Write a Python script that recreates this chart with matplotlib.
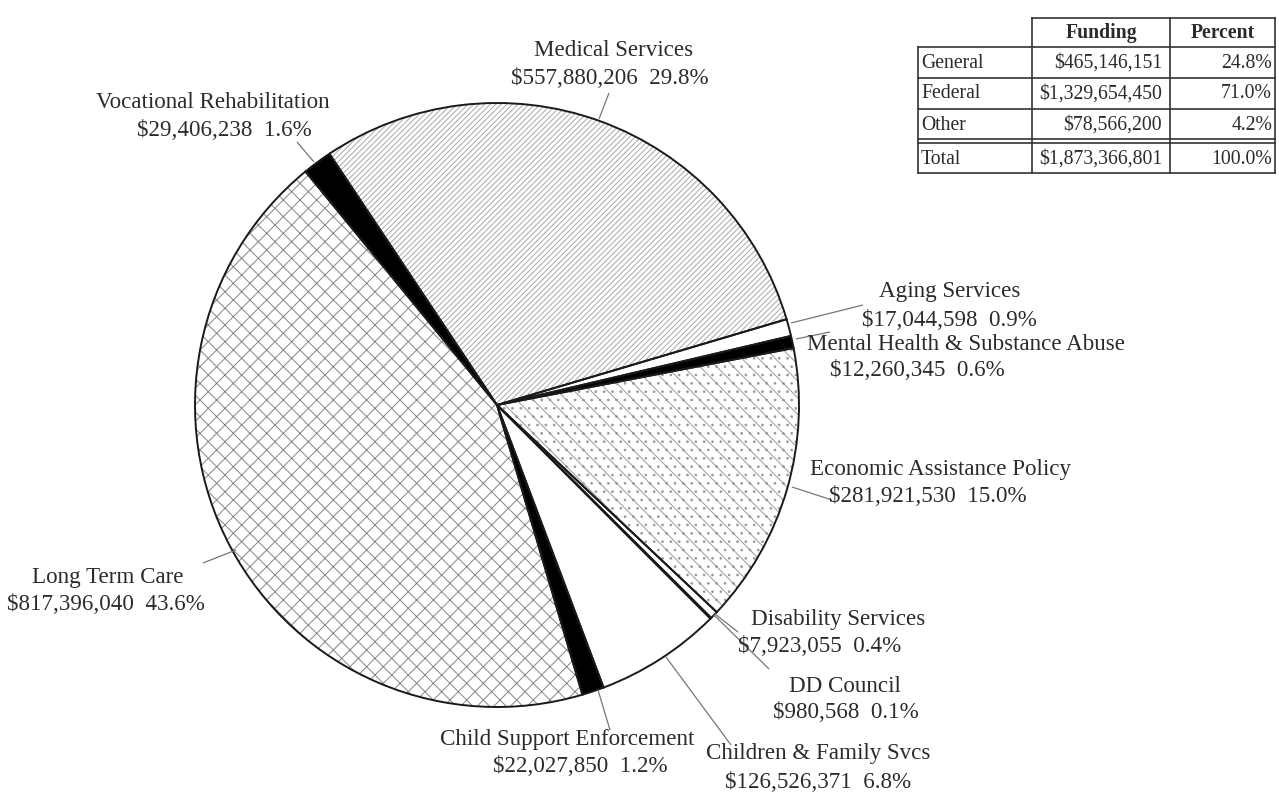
import matplotlib
matplotlib.use("Agg")
import matplotlib.pyplot as plt

plt.rcParams['font.family'] = ['Liberation Serif', 'DejaVu Serif']
plt.rcParams['hatch.linewidth'] = 0.7

# ---- data ----
departments = ["Medical Services", "Vocational Rehabilitation", "Long Term Care",
               "Child Support Enforcement", "Children & Family Svcs", "DD Council",
               "Disability Services", "Economic Assistance Policy",
               "Mental Health & Substance Abuse", "Aging Services"]
funding = [557880206, 29406238, 817396040, 22027850, 126526371, 980568,
           7923055, 281921530, 12260345, 17044598]
percents = [29.8, 1.6, 43.6, 1.2, 6.8, 0.1, 0.4, 15.0, 0.6, 0.9]

table_rows = ["General", "Federal", "Other", "Total"]
table_funding = ["$465,146,151", "$1,329,654,450", "$78,566,200", "$1,873,366,801"]
table_percent = ["24.8%", "71.0%", "4.2%", "100.0%"]
table_cols = ["Funding", "Percent"]

# ---- styles ----
fills = ['white', 'black', 'white', 'black', 'white', 'black', 'white', 'white', 'black', 'white']
hatches = ['//////', None, 'xx', None, None, None, None, '\\\\..', None, None]
hatch_cols = ['#a8a8a8', 'none', '#858585', 'none', 'none', 'none', 'none', '#9a9a9a', 'none', 'none']

W, H = 1279, 794
def Y(y):
    return H - y

fig = plt.figure(figsize=(W / 100, H / 100), dpi=100)
ax = fig.add_axes([0, 0, 1, 1])

center = (497, Y(405))
R = 302
start = 16.5

wedges, _ = ax.pie(funding, colors=fills, center=center, radius=R,
                   startangle=start, counterclock=True,
                   wedgeprops=dict(linewidth=0, edgecolor='none'))
for w, h, hc in zip(wedges, hatches, hatch_cols):
    if h:
        w.set_hatch(h)
        w.set_edgecolor(hc)
        w.set_linewidth(0)

ax.pie(funding, center=center, radius=R, startangle=start, counterclock=True,
       wedgeprops=dict(fill=False, linewidth=1.4, edgecolor='#1a1a1a'))

ax.set_xlim(0, W)
ax.set_ylim(0, H)
ax.set_aspect('equal')
ax.axis('off')

# ---- labels ----
def money(v):
    return "${:,}".format(v)

label_pos = {
    "Medical Services": ((614, 50), (610, 78)),
    "Vocational Rehabilitation": ((213, 102), (224, 130)),
    "Aging Services": ((950, 292), (949, 320)),
    "Mental Health & Substance Abuse": ((966, 345), (917, 370)),
    "Economic Assistance Policy": ((941, 470), (928, 497)),
    "Long Term Care": ((108, 578), (106, 605)),
    "Disability Services": ((838, 620), (820, 646)),
    "DD Council": ((845, 686), (846, 712)),
    "Child Support Enforcement": ((567, 740), (580, 767)),
    "Children & Family Svcs": ((818, 754), (818, 782)),
}
leaders = {
    "Medical Services": ((609, 93), (599, 119)),
    "Vocational Rehabilitation": ((297, 142), (314, 162)),
    "Aging Services": ((863, 305), (791, 323)),
    "Mental Health & Substance Abuse": ((830, 332), (796, 339)),
    "Economic Assistance Policy": ((832, 500), (792, 487)),
    "Long Term Care": ((203, 563), (236, 550)),
    "Disability Services": ((738, 632), (715, 614)),
    "DD Council": ((769, 669), (714, 615)),
    "Child Support Enforcement": ((610, 730), (598, 690)),
    "Children & Family Svcs": ((731, 745), (666, 657)),
}

tc = '#2b2b2b'
fs = 16.6
for name, v, p in zip(departments, funding, percents):
    (x1, y1), (x2, y2) = label_pos[name]
    ax.text(x1, Y(y1), name, ha='center', va='center', fontsize=fs, color=tc)
    ax.text(x2, Y(y2), "{}  {:.1f}%".format(money(v), p), ha='center', va='center',
            fontsize=fs, color=tc)
    (a, b), (c, d) = leaders[name]
    ax.plot([a, c], [Y(b), Y(d)], color='#777777', lw=0.9, solid_capstyle='butt')

# ---- table ----
xs = [918, 1032, 1170, 1275]
ys = [18, 47, 78, 109, 139, 143, 173]
lc = '#333333'
lw = 1.2
ax.plot([xs[1], xs[3]], [Y(ys[0]), Y(ys[0])], color=lc, lw=lw)
for yy in ys[1:]:
    ax.plot([xs[0], xs[3]], [Y(yy), Y(yy)], color=lc, lw=lw)
ax.plot([xs[0], xs[0]], [Y(ys[1]), Y(ys[-1])], color=lc, lw=lw)
for xx in xs[1:]:
    ax.plot([xx, xx], [Y(ys[0]), Y(ys[-1])], color=lc, lw=lw)

tf = 14.2
ax.text((xs[1] + xs[2]) / 2, Y(33), table_cols[0], ha='center', va='center',
        fontsize=tf, fontweight='bold', color=tc)
ax.text((xs[2] + xs[3]) / 2, Y(33), table_cols[1], ha='center', va='center',
        fontsize=tf, fontweight='bold', color=tc)
row_y = [63, 94, 125, 159]
for ry, lab, fv, pv in zip(row_y, table_rows, table_funding, table_percent):
    ax.text(xs[0] + 3, Y(ry), lab, ha='left', va='center', fontsize=tf, color=tc)
    ax.text(xs[2] - 8, Y(ry), fv, ha='right', va='center', fontsize=tf, color=tc)
    ax.text(xs[3] - 3, Y(ry), pv, ha='right', va='center', fontsize=tf, color=tc)

fig.savefig("out.png", dpi=100)
